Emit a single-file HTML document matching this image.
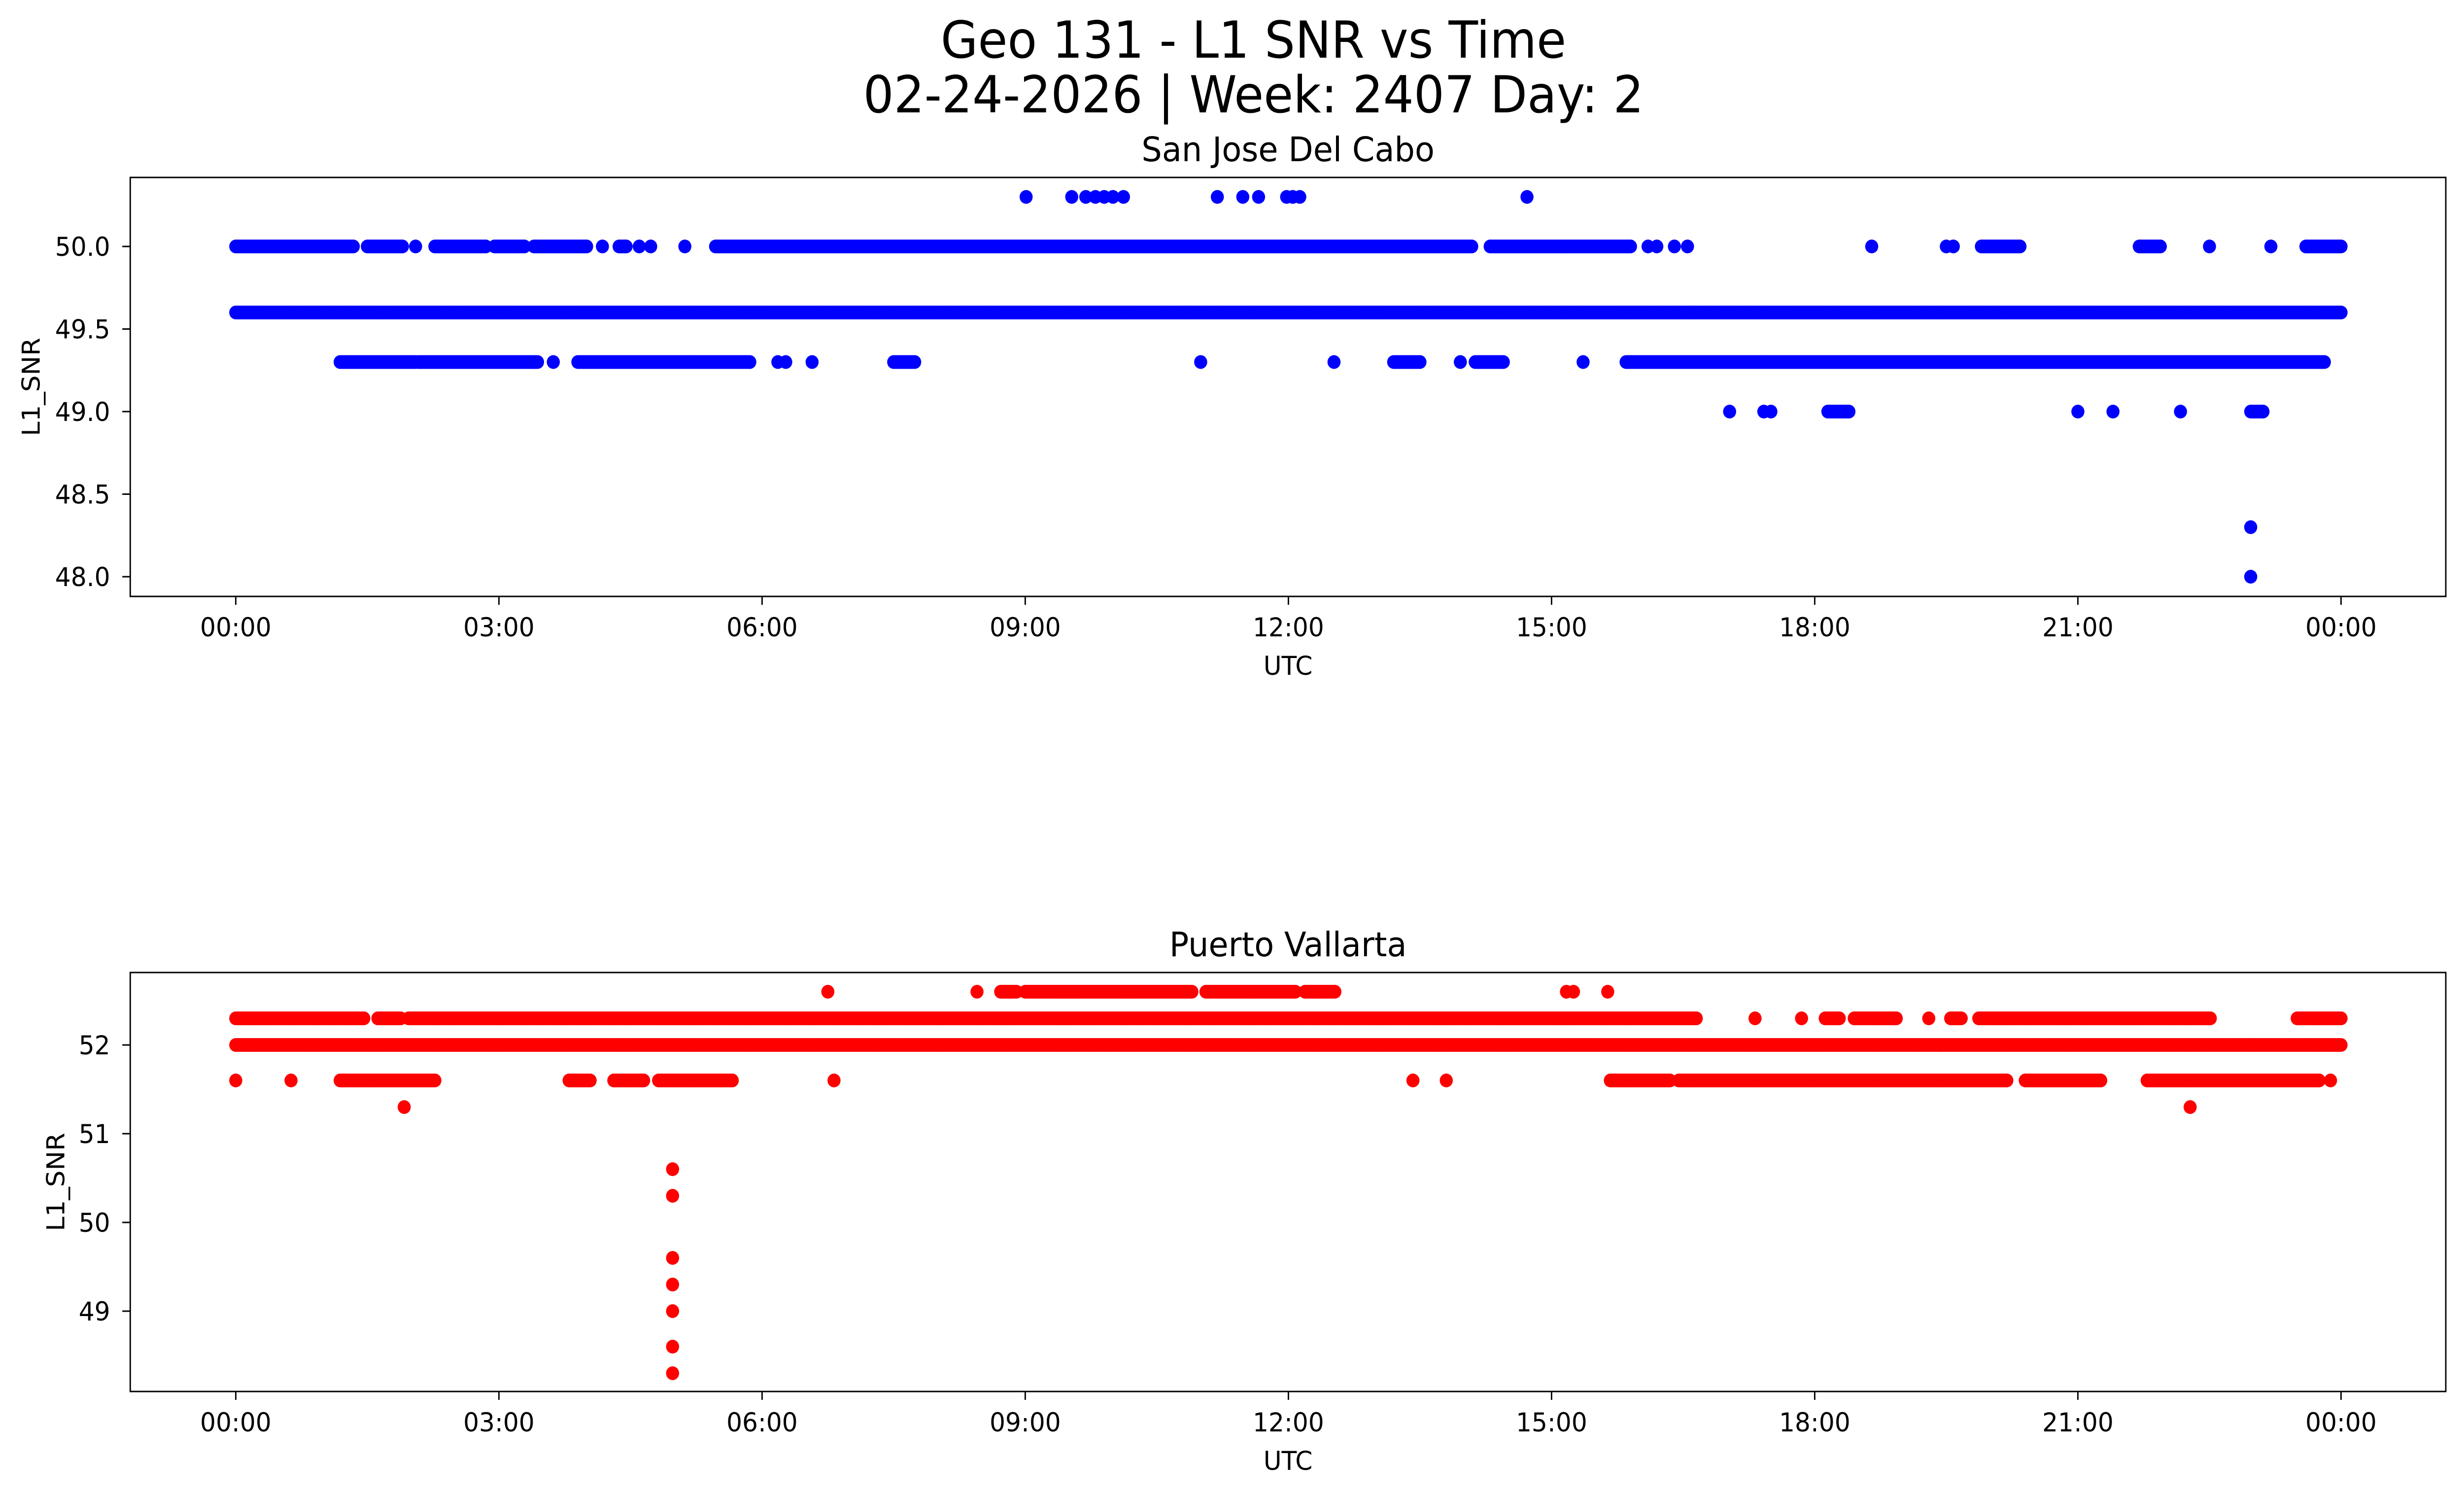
<!DOCTYPE html>
<html><head><meta charset="utf-8"><style>
html,body{margin:0;padding:0;background:#fff;overflow:hidden;width:100%;height:100%;}
svg{display:block;position:fixed;left:0;top:0;width:100vw;height:100vh;font-family:"DejaVu Sans","Liberation Sans",sans-serif;}
</style></head><body>
<svg id="fig" viewBox="0 0 5278 3033" preserveAspectRatio="none" xmlns="http://www.w3.org/2000/svg">
<rect width="5278" height="3033" fill="#fff"/>
<text x="2685" y="117" font-size="103" text-anchor="middle">Geo 131 - L1 SNR vs Time</text>
<text x="2685" y="228" font-size="103" text-anchor="middle">02-24-2026 | Week: 2407 Day: 2</text>
<g id="top"></g>
<g id="bot"></g>
</svg>
<script>
// Hours 0..24, runs: [level, startHour, endHour]; points: [level, hour]
const topYTicks = [48.0, 48.5, 49.0, 49.5, 50.0];
const topYLabels = ["48.0", "48.5", "49.0", "49.5", "50.0"];
const botYTicks = [49, 50, 51, 52];
const botYLabels = ["49", "50", "51", "52"];
const xTickHours = [0, 3, 6, 9, 12, 15, 18, 21, 24];
const xTickLabels = ["00:00", "03:00", "06:00", "09:00", "12:00", "15:00", "18:00", "21:00", "00:00"];

const topRuns = [
  [50.0, 0, 1.35], [50.0, 1.5, 1.9], [50.0, 2.27, 2.85], [50.0, 2.95, 3.3], [50.0, 3.4, 4.0],
  [50.0, 4.37, 4.45], [50.0, 5.47, 14.1], [50.0, 14.3, 15.9], [50.0, 19.9, 20.35], [50.0, 21.7, 21.95], [50.0, 23.6, 24.0],
  [49.6, 0, 24],
  [49.3, 1.19, 2.05], [49.3, 2.08, 3.45], [49.3, 3.9, 5.87], [49.3, 7.5, 7.74], [49.3, 13.2, 13.5],
  [49.3, 14.13, 14.45], [49.3, 15.85, 23.82],
  [49.0, 18.15, 18.4], [49.0, 22.97, 23.12]
];
const topPoints = [
  [50.3, 9.01], [50.3, 9.53], [50.3, 9.69], [50.3, 9.8], [50.3, 9.9], [50.3, 10.0], [50.3, 10.12],
  [50.3, 11.19], [50.3, 11.48], [50.3, 11.66], [50.3, 11.98], [50.3, 12.05], [50.3, 12.13], [50.3, 14.72],
  [50.0, 2.05], [50.0, 4.18], [50.0, 4.6], [50.0, 4.73], [50.0, 5.12],
  [50.0, 16.1], [50.0, 16.2], [50.0, 16.4], [50.0, 16.55], [50.0, 18.65], [50.0, 19.5], [50.0, 19.58],
  [50.0, 22.5], [50.0, 23.2],
  [49.3, 3.62], [49.3, 6.18], [49.3, 6.27], [49.3, 6.57], [49.3, 11.0], [49.3, 12.52], [49.3, 13.96], [49.3, 15.36],
  [49.0, 17.03], [49.0, 17.42], [49.0, 17.5], [49.0, 21.0], [49.0, 21.4], [49.0, 22.17],
  [48.3, 22.97], [48.0, 22.97]
];
const botRuns = [
  [52.6, 8.72, 8.9], [52.6, 9.0, 10.9], [52.6, 11.06, 12.09], [52.6, 12.19, 12.54],
  [52.3, 0, 1.46], [52.3, 1.62, 1.89], [52.3, 1.97, 16.65], [52.3, 18.12, 18.28], [52.3, 18.45, 18.93],
  [52.3, 19.55, 19.67], [52.3, 19.87, 22.52], [52.3, 23.5, 24.0],
  [52.0, 0, 24],
  [51.6, 1.19, 2.28], [51.6, 3.8, 4.04], [51.6, 4.31, 4.66], [51.6, 4.82, 5.67], [51.6, 15.67, 16.36],
  [51.6, 16.45, 20.2], [51.6, 20.4, 21.26], [51.6, 21.79, 23.75]
];
const botPoints = [
  [52.6, 6.75], [52.6, 8.45], [52.6, 15.17], [52.6, 15.25], [52.6, 15.64],
  [52.3, 17.32], [52.3, 17.85], [52.3, 19.3],
  [51.6, 0.0], [51.6, 0.63], [51.6, 6.82], [51.6, 13.42], [51.6, 13.8], [51.6, 23.88],
  [51.3, 1.92], [51.3, 22.28],
  [50.6, 4.98], [50.3, 4.98], [49.6, 4.98], [49.3, 4.98], [49.0, 4.98], [48.6, 4.98], [48.3, 4.98]
];

const NS = "http://www.w3.org/2000/svg";
const AX_L = 279, AX_R = 5239;
const xOf = h => 505 + h * 187.9;

function el(tag, attrs, parent) {
  const e = document.createElementNS(NS, tag);
  for (const k in attrs) e.setAttribute(k, attrs[k]);
  parent.appendChild(e);
  return e;
}

function panel(g, top, bottom, yOf, yTicks, yLabels, runs, points, color, title, key, ylabelX) {
  el("rect", {x: AX_L, y: top, width: AX_R - AX_L, height: bottom - top, fill: "#fff"}, g);
  const marks = el("g", {}, g);
  
  
  const r = 14;
  runs.forEach(run => {
    for (let h = run[1]; h <= run[2] + 1e-9; h += 0.02) {
      const c = el("circle", {cx: xOf(h).toFixed(1), cy: yOf(run[0]).toFixed(1), r: r, fill: color}, marks);
      
      
    }
  });
  points.forEach(p => {
    const c = el("circle", {cx: xOf(p[1]).toFixed(1), cy: yOf(p[0]).toFixed(1), r: r, fill: color}, marks);
    
    
  });
  const frame = el("rect", {x: AX_L, y: top, width: AX_R - AX_L, height: bottom - top, fill: "none", stroke: "#000", "stroke-width": 3}, g);
  
  
  xTickHours.forEach((h, i) => {
    const x = xOf(h);
    el("line", {x1: x, y1: bottom, x2: x, y2: bottom + 17, stroke: "#000", "stroke-width": 3}, g);
    const t = el("text", {x: x, y: bottom + 81, "font-size": 53, "text-anchor": "middle"}, g);
    t.textContent = xTickLabels[i];
    
    
  });
  yTicks.forEach((v, i) => {
    const y = yOf(v);
    el("line", {x1: AX_L, y1: y, x2: AX_L - 17, y2: y, stroke: "#000", "stroke-width": 3}, g);
    const t = el("text", {x: 236, y: y + 19, "font-size": 53, "text-anchor": "end"}, g);
    t.textContent = yLabels[i];
    
    
  });
  const xl = el("text", {x: (AX_L + AX_R) / 2, y: bottom + 159, "font-size": 53, "text-anchor": "middle"}, g);
  xl.textContent = "UTC";
  
  
  const cy = (top + bottom) / 2;
  const yl = el("text", {x: ylabelX, y: cy, "font-size": 53, "text-anchor": "middle", transform: "rotate(-90 " + ylabelX + " " + cy + ")"}, g);
  yl.textContent = "L1_SNR";
  
  
  const tt = el("text", {x: (AX_L + AX_R) / 2, y: top - 33, "font-size": 69, "text-anchor": "middle"}, g);
  tt.textContent = title;
  
  
}

panel(document.getElementById("top"), 360, 1210, v => 500 - (v - 50) * 335,
  topYTicks, topYLabels, topRuns, topPoints, "#0000ff", "San Jose Del Cabo", "san-jose", 85);
panel(document.getElementById("bot"), 1973, 2823, v => 2120 - (v - 52) * 180,
  botYTicks, botYLabels, botRuns, botPoints, "#ff0000", "Puerto Vallarta", "puerto-vallarta", 138);
</script>
</body></html>
